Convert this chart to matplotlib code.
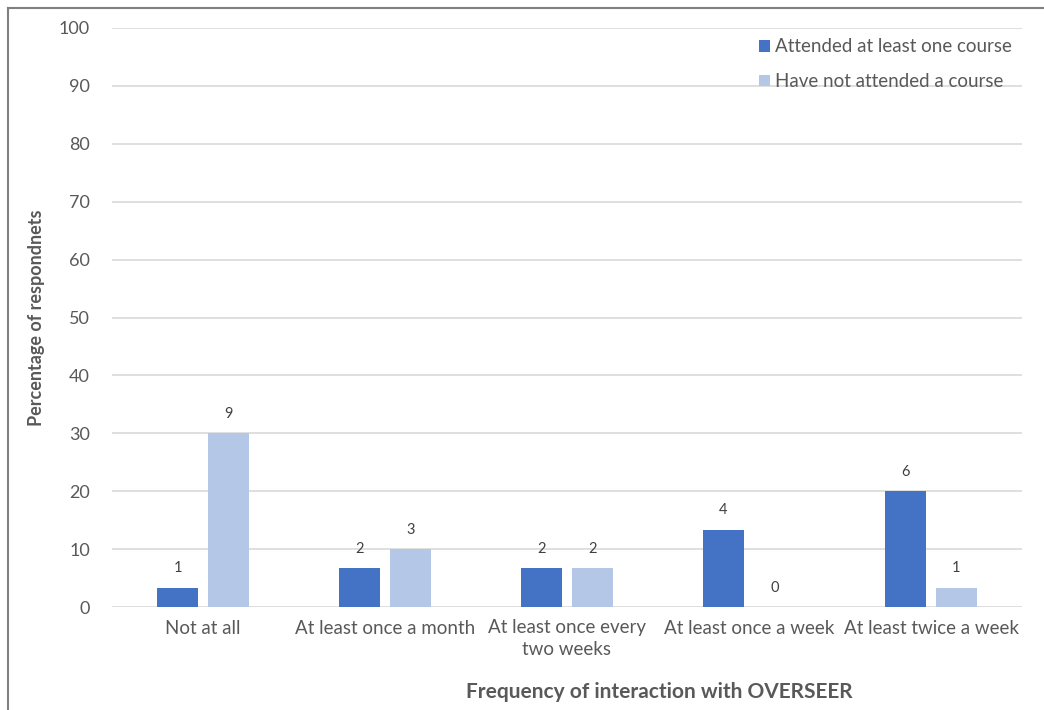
import numpy as np
import matplotlib
matplotlib.use('Agg')
import matplotlib.pyplot as plt
from matplotlib.lines import Line2D

# survey results (number of respondents out of the total)
categories = ['Not at all', 'At least once a month', 'At least once every\ntwo weeks',
              'At least once a week', 'At least twice a week']
attended = [1, 2, 2, 4, 6]
not_attended = [9, 3, 2, 0, 1]
total_respondents = 30
series_names = ['Attended at least one course', 'Have not attended a course']
y_ticks = [0, 10, 20, 30, 40, 50, 60, 70, 80, 90, 100]

dark = '#4472C4'
light = '#B4C7E7'
txt = '#595959'

plt.rcParams['font.family'] = ['Lato', 'DejaVu Sans']

fig = plt.figure(figsize=(10.44, 7.10), dpi=100)
ax = fig.add_axes([112/1044, 1 - 607/710, 910/1044, 579/710])

x = np.arange(len(categories))
off = 0.14
w = 0.225
pct_a = [c / total_respondents * 100 for c in attended]
pct_n = [c / total_respondents * 100 for c in not_attended]
b1 = ax.bar(x - off, pct_a, w, color=dark, label=series_names[0], zorder=3)
b2 = ax.bar(x + off, pct_n, w, color=light, label=series_names[1], zorder=3)

for bars, counts in ((b1, attended), (b2, not_attended)):
    for rect, c in zip(bars, counts):
        ax.annotate(str(c), (rect.get_x() + rect.get_width() / 2, rect.get_height()),
                    xytext=(0, 9), textcoords='offset points', ha='center', va='bottom',
                    fontsize=10.5, color='#404040')

ax.set_xlim(-0.5, len(categories) - 0.5)
ax.set_ylim(0, 100)
ax.set_yticks(y_ticks)
ax.set_xticks(x)
ax.set_xticklabels(categories, fontsize=13.5, color=txt, linespacing=1.3, va='top')
ax.tick_params(axis='y', labelsize=13, labelcolor=txt, length=0, pad=16)
ax.tick_params(axis='x', length=0, pad=9)
ax.yaxis.grid(True, color='#D9D9D9', linewidth=1.2, zorder=0)
for s in ax.spines.values():
    s.set_visible(False)

fig.text(37/1044, 1 - 318/710, 'Percentage of respondnets', rotation=90, ha='center',
         va='center', fontsize=13, fontweight='bold', color=txt)
fig.text(659/1044, 1 - 692/710, 'Frequency of interaction with OVERSEER', ha='center',
         va='center', fontsize=15, fontweight='bold', color=txt)

ax.legend(loc='upper right', bbox_to_anchor=(1.0, 1.0), frameon=False, fontsize=13.5,
          labelcolor=txt, handlelength=0.6, handleheight=0.6, handletextpad=0.25,
          labelspacing=0.95, borderaxespad=0.15)

# outer frame (left and top edges)
fig.add_artist(Line2D([8/1044, 8/1044], [0, 1 - 8/710], transform=fig.transFigure,
                      color='#808080', linewidth=1.5))
fig.add_artist(Line2D([8/1044, 1], [1 - 8/710, 1 - 8/710], transform=fig.transFigure,
                      color='#808080', linewidth=1.5))

fig.savefig('out.png', dpi=100)
